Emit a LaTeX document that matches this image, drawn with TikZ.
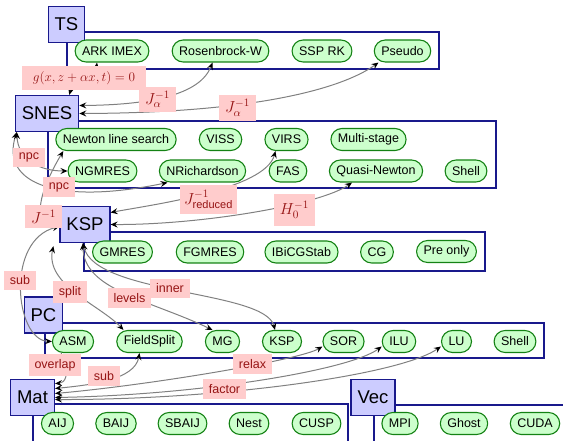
\RequirePackage{fix-cm}
\documentclass[tikz,border=0pt]{standalone}
\usepackage{fontspec}
\setmainfont{Liberation Sans}
\usetikzlibrary{arrows.meta}
\definecolor{boxblue}{RGB}{204,204,255}
\definecolor{navyb}{RGB}{25,25,140}
\definecolor{leafg}{RGB}{204,255,204}
\definecolor{leafb}{RGB}{20,130,20}
\definecolor{lblpink}{RGB}{255,204,204}
\definecolor{lbltext}{RGB}{150,20,20}
\begin{document}
\begin{tikzpicture}[x=1pt,y=-1pt,
 pkg/.style={draw=navyb, fill=boxblue, line width=1.2pt, font=\fontsize{18.5}{20}\selectfont, inner xsep=6.5pt, minimum height=36pt},
 grp/.style={draw=navyb, line width=1.2pt},
 leaf/.style={draw=leafb, fill=leafg, line width=1.1pt, rounded corners=11pt, font=\fontsize{12.5}{14}\selectfont, inner xsep=7pt, minimum height=22pt},
 lbl/.style={fill=lblpink, text=lbltext, font=\fontsize{12.5}{14}\selectfont, inner xsep=6pt, inner ysep=5pt},
 mlbl/.style={lbl, font=\fontsize{16}{18}\selectfont, inner xsep=3pt, inner ysep=2pt},
 conn/.style={draw=gray, line width=1pt, {Stealth[length=7pt,width=6pt,inset=2.5pt,color=black]}-{Stealth[length=7pt,width=6pt,inset=2.5pt,color=black]}},
]
\useasboundingbox (0,0) rectangle (563,441);
\clip (0,0) rectangle (563,441);
% containers
\draw[grp] (67,32) rectangle (439,69);
\draw[grp] (48,121) rectangle (496,188);
\draw[grp] (84,232) rectangle (485,271);
\draw[grp] (45,323) rectangle (544,358);
\draw[grp] (33,404) rectangle (348,450);
\draw[grp] (374,405) rectangle (580,450);
% packages
\node[pkg] (ts) at (66.5,24.5) {TS};
\node[pkg] (snes) at (47,113.5) {SNES};
\node[pkg] (ksp) at (85,224.5) {KSP};
\node[pkg] (pc) at (43.5,315) {PC};
\node[pkg] (mat) at (32.5,397.5) {Mat};
\node[pkg] (vec) at (373,397.5) {Vec};
% TS
\node[leaf] (ark) at (112,51) {ARK IMEX};
\node[leaf] (rosen) at (220.5,51) {Rosenbrock-W};
\node[leaf] (ssp) at (322,51) {SSP RK};
\node[leaf] (pseudo) at (402.5,51) {Pseudo};
% SNES
\node[leaf] (newton) at (116,139.5) {Newton line search};
\node[leaf] (viss) at (220.5,139.5) {VISS};
\node[leaf] (virs) at (286.5,139.5) {VIRS};
\node[leaf] (multi) at (368.5,139.5) {Multi-stage};
\node[leaf] (ngmres) at (102.5,171) {NGMRES};
\node[leaf] (nrich) at (202.5,171) {NRichardson};
\node[leaf] (fas) at (288,171) {FAS};
\node[leaf] (qn) at (376,171) {Quasi-Newton};
\node[leaf] (sshell) at (466,171) {Shell};
% KSP
\node[leaf] (gmres) at (122.5,252) {GMRES};
\node[leaf] (fgmres) at (210,252) {FGMRES};
\node[leaf] (bicg) at (301.5,252) {IBiCGStab};
\node[leaf] (cg) at (377,252) {CG};
\node[leaf] (preonly) at (446.5,251.5) {Pre only};
% PC
\node[leaf] (asm) at (73,341.5) {ASM};
\node[leaf] (fs) at (149.5,341.5) {FieldSplit};
\node[leaf] (mg) at (222.5,341.5) {MG};
\node[leaf] (ksp2) at (282,341.5) {KSP};
\node[leaf] (sor) at (343.5,341.5) {SOR};
\node[leaf] (ilu) at (399,341.5) {ILU};
\node[leaf] (lu) at (456.5,341.5) {LU};
\node[leaf] (pshell) at (515,341.5) {Shell};
% Mat
\node[leaf] (aij) at (57.5,423.5) {AIJ};
\node[leaf] (baij) at (116,423.5) {BAIJ};
\node[leaf] (sbaij) at (182.5,423.5) {SBAIJ};
\node[leaf] (nest) at (249,423.5) {Nest};
\node[leaf] (cusp) at (316.5,423.5) {CUSP};
% Vec
\node[leaf] (mpi) at (400,423.5) {MPI};
\node[leaf] (ghost) at (464,423.5) {Ghost};
\node[leaf] (cuda) at (535,423.5) {CUDA};
% connectors
\draw[conn] ([xshift=-15pt]ark.south) .. controls (95,80) and (72,85) .. ([xshift=-10pt]snes.north east);
\draw[conn] ([xshift=-8pt]rosen.south) .. controls (200,95) and (150,105) .. ([yshift=8pt]snes.east);
\draw[conn] ([xshift=-24pt]pseudo.south) .. controls (340,90) and (250,113) .. (snes.east);
\draw[conn] ([xshift=-35pt]nrich.south) .. controls (60,205) and (0,185) .. ([xshift=2pt]snes.south west);
\draw[conn] (ngmres.west) .. controls (40,171) and (18,160) .. ([xshift=2pt]snes.south west);
\draw[conn] ([xshift=8pt]newton.south west) .. controls (40,190) and (30,225) .. (ksp.west);
\draw[conn] (asm.west) .. controls (15,340) and (5,240) .. ([yshift=-2pt]ksp.west);
\draw[conn] ([xshift=-11pt]virs.south) .. controls (265,190) and (150,205) .. ([yshift=12pt]ksp.east);
\draw[conn] ([xshift=-24pt]qn.south) .. controls (320,205) and (200,225) .. (ksp.east);
\draw[conn] ([xshift=-26pt]fs.north) .. controls (100,305) and (45,285) .. ([xshift=-6pt,yshift=-3pt]ksp.south west);
\draw[conn] ([xshift=-10pt]mg.north) .. controls (150,300) and (83,290) .. ([xshift=-2pt]ksp.south);
\draw[conn] ([xshift=-7pt]ksp2.north) .. controls (265,290) and (95,295) .. ([xshift=-2pt]ksp.south);
\draw[conn] ([xshift=-12pt]asm.south) .. controls (70,375) and (65,383) .. ([yshift=14pt]mat.east);
\draw[conn] ([xshift=-10pt]fs.south) .. controls (135,380) and (90,385) .. ([yshift=9pt]mat.east);
\draw[conn] ([yshift=-5pt]sor.west) .. controls (300,360) and (150,385) .. ([yshift=4pt]mat.east);
\draw[conn] ([yshift=-5pt]ilu.west) .. controls (350,370) and (200,395) .. (mat.east);
\draw[conn] ([yshift=-5pt]lu.west) .. controls (400,375) and (220,400) .. ([yshift=-2pt]mat.east);
% labels
\node[lbl, font=\fontsize{13.2}{15}\selectfont, inner ysep=4pt, minimum width=124pt, minimum height=24pt] (lg) at (84,78) {$g(x,z+\alpha x,t)=0$};
\node[mlbl, minimum width=37pt, minimum height=25pt] (lja) at (157.5,99.5) {$J_\alpha^{-1}$};
\node[mlbl, minimum width=37pt, minimum height=26pt] (ljb) at (237.5,108) {$J_\alpha^{-1}$};
\node[lbl] (lnpca) at (29,157.5) {npc};
\node[lbl] (lnpcb) at (59,187) {npc};
\node[mlbl, minimum width=37pt, minimum height=23pt] (ljinv) at (43.5,216.5) {$J^{-1}$};
\node[mlbl, minimum width=57pt, minimum height=29pt] (ljred) at (208.5,199.5) {$J^{-1}_{\hbox{\fontsize{11}{12}\selectfont reduced}}$};
\node[mlbl, minimum width=41pt, minimum height=32pt] (lh) at (294.5,210) {$H_0^{-1}$};
\node[lbl] (lsub) at (20,280.5) {sub};
\node[lbl] (lsplit) at (70,292) {split};
\node[lbl] (llevels) at (129.5,298) {levels};
\node[lbl] (linner) at (170,288.5) {inner};
\node[lbl] (loverlap) at (55,365) {overlap};
\node[lbl] (lsub2) at (104,376) {sub};
\node[lbl] (lrelax) at (252.5,364) {relax};
\node[lbl] (lfactor) at (224.5,389) {factor};
\end{tikzpicture}
\end{document}
